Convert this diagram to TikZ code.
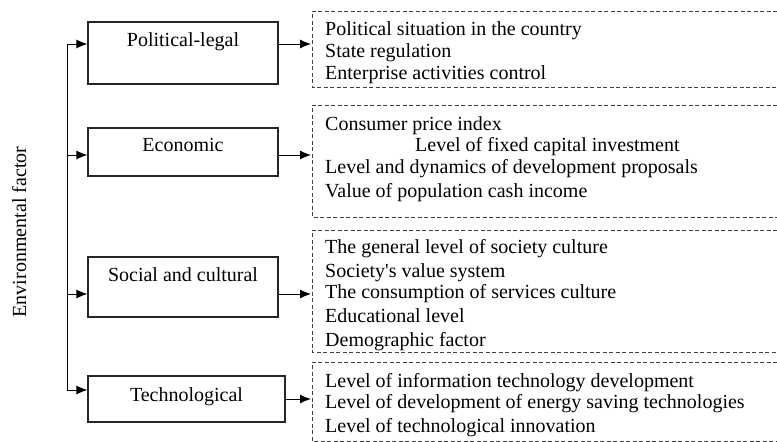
\documentclass[tikz,border=0pt]{standalone}
\usepackage{fontspec}
\setmainfont{Liberation Serif}
\usetikzlibrary{arrows.meta}
\begin{document}
\begin{tikzpicture}[x=1pt,y=-1pt,
  txt/.style={font=\fontsize{20}{22}\selectfont, inner sep=0pt},
  item/.style={txt, anchor=base west},
  factor/.style={draw=black!85, line width=1.1pt, inner sep=0pt},
  dbox/.style={draw=black!75, line width=0.8pt, dash pattern=on 4pt off 2.5pt},
  arr/.style={line width=1pt, -{Latex[length=11pt,width=9pt]}},
  ln/.style={line width=1pt}]
\useasboundingbox (0,0) rectangle (777,442);

% factor boxes
\node[factor, minimum width=190pt, minimum height=62pt] (pl) at (183,53) {};
\node[txt, anchor=base] (plt) at (183,46) {Political-legal};
\node[factor, minimum width=190pt, minimum height=48pt] (ec) at (183,152) {};
\node[txt, anchor=base] (ect) at (183,151) {Economic};
\node[factor, minimum width=190pt, minimum height=60pt] (sc) at (183,287) {};
\node[txt, anchor=base] (sct) at (183,281) {Social and cultural};
\node[factor, minimum width=197pt, minimum height=46pt] (te) at (186.5,399) {};
\node[txt, anchor=base] (tet) at (186.5,401) {Technological};

% side label
\node[txt, rotate=90, anchor=base] (env) at (26,232) {Environmental factor};

% spine and arrows
\coordinate (s1) at (67,44);
\coordinate (s2) at (67,155);
\coordinate (s3) at (67,294);
\coordinate (s4) at (67,390);
\draw[ln] (s1) -- (s4);
\draw[arr] (s1) -- (s1 -| pl.west);
\draw[arr] (s2) -- (s2 -| ec.west);
\draw[arr] (s3) -- (s3 -| sc.west);
\draw[arr] (s4) -- (s4 -| te.west);

% dashed lists
\draw[dbox] (777,11) -| (312,87) -- (777,87);
\draw[dbox] (777,105) -| (312,217) -- (777,217);
\draw[dbox] (777,230) -| (312,352) -- (777,352);
\draw[dbox] (777,362) -| (312,441) -- (777,441);

\coordinate (d1) at (311,44);
\coordinate (d2) at (311,155);
\coordinate (d3) at (311,294);
\coordinate (d4) at (311,399);
\draw[arr] (pl.east |- d1) -- (d1);
\draw[arr] (ec.east |- d2) -- (d2);
\draw[arr] (sc.east |- d3) -- (d3);
\draw[arr] (te.east |- d4) -- (d4);

% list texts
\node[item] (a1) at (325,35) {Political situation in the country};
\node[item] (a2) at (325,57) {State regulation};
\node[item] (a3) at (325,79) {Enterprise activities control};

\node[item] (b1) at (325,130) {Consumer price index};
\node[item] (b2) at (415,151) {Level of fixed capital investment};
\node[item] (b3) at (325,173) {Level and dynamics of development proposals};
\node[item] (b4) at (325,197) {Value of population cash income};

\node[item] (c1) at (325,253) {The general level of society culture};
\node[item] (c2) at (325,277) {Society\textquotesingle s value system};
\node[item] (c3) at (325,298) {The consumption of services culture};
\node[item] (c4) at (325,322) {Educational level};
\node[item] (c5) at (325,346) {Demographic factor};

\node[item] (e1) at (325,387) {Level of information technology development};
\node[item] (e2) at (325,408) {Level of development of energy saving technologies};
\node[item] (e3) at (325,432) {Level of technological innovation};
\end{tikzpicture}
\end{document}
